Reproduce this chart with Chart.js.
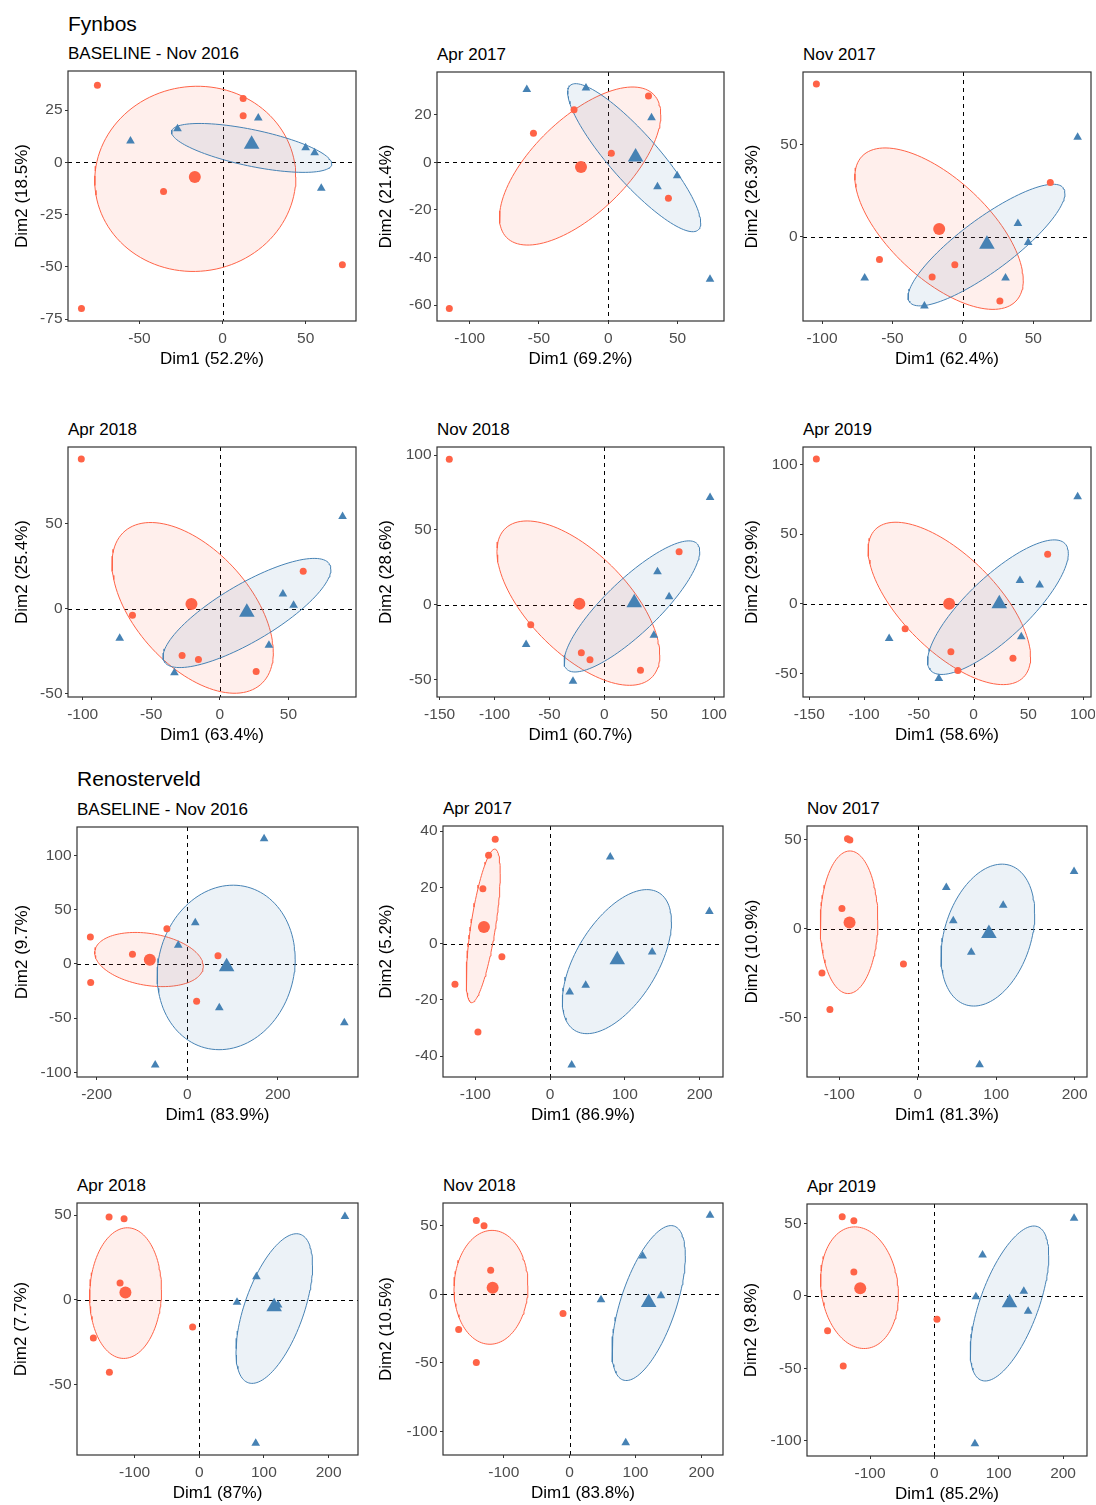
<!DOCTYPE html>
<html>
<head>
<meta charset="utf-8">
<script src="https://cdn.jsdelivr.net/npm/chart.js@4.4.1/dist/chart.umd.min.js"></script>
<style>
  body { margin: 0; background: #fff; width: 1096px; height: 1505px; position: relative; overflow: hidden;
         font-family: "Liberation Sans", Arial, sans-serif; }
  canvas { position: absolute; }
  .ttl { position: absolute; white-space: nowrap; color: #000; font-size: 17px; line-height: 17px; }
  .sec { position: absolute; white-space: nowrap; color: #000; font-size: 21px; line-height: 21px; }
</style>
</head>
<body>
<script>
// Panel text
const sectionTitles = ['Fynbos', 'Renosterveld'];
const panelTitles = ['BASELINE - Nov 2016', 'Apr 2017', 'Nov 2017', 'Apr 2018', 'Nov 2018', 'Apr 2019',
                     'BASELINE - Nov 2016', 'Apr 2017', 'Nov 2017', 'Apr 2018', 'Nov 2018', 'Apr 2019'];
const dim1Labels = ['Dim1 (52.2%)', 'Dim1 (69.2%)', 'Dim1 (62.4%)', 'Dim1 (63.4%)', 'Dim1 (60.7%)', 'Dim1 (58.6%)',
                    'Dim1 (83.9%)', 'Dim1 (86.9%)', 'Dim1 (81.3%)', 'Dim1 (87%)', 'Dim1 (83.8%)', 'Dim1 (85.2%)'];
const dim2Labels = ['Dim2 (18.5%)', 'Dim2 (21.4%)', 'Dim2 (26.3%)', 'Dim2 (25.4%)', 'Dim2 (28.6%)', 'Dim2 (29.9%)',
                    'Dim2 (9.7%)', 'Dim2 (5.2%)', 'Dim2 (10.9%)', 'Dim2 (7.7%)', 'Dim2 (10.5%)', 'Dim2 (9.8%)'];

// Axis ranges and ticks
const xRange = [[-93, 80.3], [-123.6, 83.5], [-113.5, 91], [-110.7, 99.3], [-152.4, 109.1], [-155.8, 107.3],
                [-243.5, 377.1], [-143.1, 231.1], [-141.1, 215.7], [-189.1, 245.5], [-192.4, 232.9], [-197.9, 237.2]];
const yRange = [[-75.9, 43.7], [-66.7, 37.9], [-45.7, 89.4], [-51.9, 95.1], [-61.6, 105.4], [-67.1, 112.7],
                [-104.3, 126.4], [-47.4, 41.8], [-83.3, 57.5], [-91.4, 57.1], [-117.3, 66.8], [-110.6, 63.4]];
const xTicks = [[-50, 0, 50], [-100, -50, 0, 50], [-100, -50, 0, 50], [-100, -50, 0, 50],
                [-150, -100, -50, 0, 50, 100], [-150, -100, -50, 0, 50, 100],
                [-200, 0, 200], [-100, 0, 100, 200], [-100, 0, 100, 200],
                [-100, 0, 100, 200], [-100, 0, 100, 200], [-100, 0, 100, 200]];
const yTicks = [[-75, -50, -25, 0, 25], [-60, -40, -20, 0, 20], [0, 50], [-50, 0, 50],
                [-50, 0, 50, 100], [-50, 0, 50, 100], [-100, -50, 0, 50, 100], [-40, -20, 0, 20, 40],
                [-50, 0, 50], [-50, 0, 50], [-100, -50, 0, 50], [-100, -50, 0, 50]];

// Individuals (red circles / blue triangles)
const redPoints = [
  [[-75.3, 36.9], [12.4, 30.6], [12.4, 22.3], [-35.5, -14.0], [72.1, -49.0], [-84.9, -69.9]],
  [[-54, 12.2], [-24.7, 22.0], [29.0, 27.8], [2.2, 3.8], [43.4, -15.1], [-114.7, -61.5]],
  [[-104, 82.9], [62.1, 29.4], [-59.2, -12.3], [-5.7, -15.2], [-21.8, -21.8], [26.3, -34.8]],
  [[-101, 88], [-63.7, -3.9], [-27.5, -27.5], [-15.6, -29.9], [26.5, -36.9], [60.8, 22]],
  [[-141.2, 97.3], [68.2, 35.5], [-67, -13.4], [-20.9, -32.1], [-13, -36.8], [33, -43.8]],
  [[-143.6, 104.1], [67.7, 35.6], [-62.5, -18], [-20.7, -34.6], [-14.3, -48.1], [36, -39.2]],
  [[-214, 24.8], [-121, 8.9], [-45, 32.5], [67.9, 7.7], [-213.3, -17.2], [20.7, -34.4]],
  [[-73.3, 37.1], [-82.2, 31.4], [-89.8, 19.5], [-64.4, -4.7], [-127.1, -14.4], [-96.4, -31.4]],
  [[-89.5, 50.4], [-86.5, 49.6], [-96.6, 11.2], [-18.2, -19.9], [-122, -24.9], [-111.9, -45.5]],
  [[-139.5, 48.8], [-116.3, 47.8], [-122.5, 10], [-10.3, -15.9], [-163.8, -22.4], [-139, -42.7]],
  [[-141.8, 54.1], [-130.1, 50.2], [-120, 17.6], [-10.1, -13.9], [-168.6, -25.6], [-141.8, -49.8]],
  [[-143.2, 54.6], [-125.1, 51.8], [-125.1, 16.4], [4.1, -16.1], [-165.9, -24.2], [-141.6, -48.4]]
];
const bluePoints = [
  [[-55.4, 10.2], [-27.1, 16.1], [21.5, 21.2], [50, 7.0], [55.4, 4.6], [59.4, -12.4]],
  [[-58.8, 30.5], [-16.1, 31.2], [31.2, 18.7], [35.5, -10.3], [49.7, -5.7], [73.4, -49.2]],
  [[81.5, 54], [39.1, 7.2], [46.4, -3.1], [-69.7, -22.4], [30.3, -22.4], [-27.3, -37.5]],
  [[89.5, 54.2], [46, 8.6], [53.8, 2.0], [-73, -17.3], [35.8, -21.4], [-33.1, -37.7]],
  [[96.4, 71.7], [48.5, 22.1], [59.1, 5.4], [45.2, -20.3], [-71.2, -26.6], [-28.5, -51.1]],
  [[95.1, 76.9], [42.4, 16.6], [60.4, 13.5], [43.6, -23.8], [-77.1, -25], [-31.7, -53.8]],
  [[169.7, 115.6], [17.7, 38], [-19.9, 17.2], [70.8, -40.5], [346.9, -54.3], [-70.8, -93.3]],
  [[80.4, 30.8], [212.9, 11.4], [136.4, -3], [47.6, -14.8], [26.2, -17.2], [28.9, -43.1]],
  [[199.2, 32], [36.4, 23], [108.9, 13.1], [45.3, 4.3], [68.2, -13.3], [78.8, -76.4]],
  [[225.3, 49.2], [88.4, 13.7], [58.4, -1.4], [122, -3], [87.3, -84.5]],
  [[213.2, 57.8], [110.9, 28], [47.6, -3.9], [138.7, -1], [85.1, -108.3]],
  [[217.1, 53.5], [74.9, 28.1], [139, 3.2], [64.6, -0.7], [145.7, -10.6], [63, -102.1]]
];

// Group means
const redCentroid = [[-16.7, -7.0], [-19.7, -2.0], [-16.8, 4.2], [-20.7, 2.8], [-22.7, 0.7], [-22.3, 0],
                     [-82.7, 4], [-88.4, 5.9], [-86.9, 3.4], [-114.2, 4.3], [-117, 4.9], [-115.2, 5.3]];
const blueCentroid = [[17.5, 8.6], [19.7, 2.2], [17.1, -4.0], [19.7, -2.0], [27.3, 1.3], [23.5, 0],
                      [87, -2.5], [89.8, -5.7], [90.7, -2.8], [115.8, -4.1], [120, -5.9], [116.8, -4.8]];

// Concentration ellipses: centre x, centre y, half-width, half-height, correlation
const redEllipse = [[-16.4, -7.9, 60.5, 44.3, 0.02], [-20.3, -1.6, 58.2, 33.2, 0.65], [-16.9, 4.4, 59.8, 43.8, -0.64],
                    [-19.8, 0.5, 58.8, 50.2, -0.52], [-23.6, 1.1, 74.2, 54.9, -0.63], [-22.1, 0.2, 74.2, 58.4, -0.66],
                    [-84.5, 4.1, 119.9, 25, -0.25], [-89.3, 6.3, 22.7, 27.3, 0.68], [-87.5, 3.5, 36.7, 40, 0.03],
                    [-114, 4, 55.6, 38.5, 0.05], [-119.5, 5.2, 56.2, 41.6, 0.03], [-116.3, 5.6, 60.5, 42, -0.12]];
const blueEllipse = [[17.5, 6.9, 48.2, 11.7, -0.65], [18.7, 1.9, 48, 31.1, -0.88], [16.8, -4.5, 55.7, 33, 0.85],
                     [19.8, -2.5, 61.2, 32.1, 0.8], [25.2, -1.1, 61.8, 43.8, 0.84], [22.3, -2.5, 64.3, 48.4, 0.8],
                     [86, -3.2, 152.4, 75.9, 0.1], [89.3, -6.4, 72.9, 25.6, 0.55], [89.4, -3.7, 59.7, 39.8, 0.3],
                     [116, -5.1, 59.2, 44.1, 0.58], [120, -6.3, 55.7, 56.6, 0.61], [116.8, -5.3, 61, 53.5, 0.62]];

// Layout: panel boxes [left, top, right, bottom] in page pixels
const boxes = [[68, 71, 356, 321], [437, 72, 724, 321], [803, 72, 1091, 321],
               [68, 447, 356, 697], [437, 447, 724, 697], [803, 447, 1091, 697],
               [77, 827, 358, 1077], [443, 826, 723, 1077], [807, 826, 1087, 1077],
               [77, 1203, 358, 1455], [443, 1203, 723, 1455], [807, 1204, 1087, 1456]];
const yTitleGap = [46, 51, 51, 45.5, 51, 51, 55, 57, 55, 56, 57, 56];
const sectionPos = [[68, 31], [77, 786]];

const RED = '#FF6347', BLUE = '#4682B4';
const RED_FILL = 'rgba(255, 99, 71, 0.1)', BLUE_FILL = 'rgba(70, 130, 180, 0.1)';
const FONT = '"Liberation Sans", Arial, sans-serif';
const AXIS_W = 68, AXIS_H = 50, PAD_T = 4, PAD_R = 4;

function toXY(list) {
    return list.map(p => ({x: p[0], y: p[1]}));
}

// Trace the ellipse outline in data units
function ellipsePath(e) {
    const [cx, cy, rx, ry, rho] = e;
    const phi = Math.acos(rho);
    const pts = [];
    for (let i = 0; i <= 120; i++) {
        const t = i / 120 * 2 * Math.PI;
        pts.push({x: cx + rx * Math.cos(t), y: cy + ry * Math.cos(t - phi)});
    }
    return pts;
}

// Keep the plot box where it is: fixed axis size, no label overflow padding
function fixAxis(s, size) {
    if (s.isHorizontal()) s.height = size; else s.width = size;
    s.paddingTop = 0;
    s.paddingBottom = 0;
    s.paddingLeft = 0;
    s.paddingRight = 0;
}

// Dashed zero lines and panel border
const framePlugin = {
    id: 'frame',
    beforeDatasetsDraw(chart) {
        const {ctx, chartArea: a, scales} = chart;
        const px = Math.round(scales.x.getPixelForValue(0)) + 0.5;
        const py = Math.round(scales.y.getPixelForValue(0)) + 0.5;
        ctx.save();
        ctx.strokeStyle = '#000';
        ctx.lineWidth = 1;
        ctx.setLineDash([4, 4]);
        ctx.beginPath();
        ctx.moveTo(px, a.top);
        ctx.lineTo(px, a.bottom);
        ctx.moveTo(a.left, py);
        ctx.lineTo(a.right, py);
        ctx.stroke();
        ctx.restore();
    },
    afterDraw(chart) {
        const {ctx, chartArea: a} = chart;
        ctx.save();
        ctx.strokeStyle = '#333';
        ctx.lineWidth = 1.2;
        ctx.strokeRect(a.left, a.top, a.right - a.left, a.bottom - a.top);
        ctx.restore();
    }
};

function addText(cls, text, left, top) {
    const d = document.createElement('div');
    d.className = cls;
    d.textContent = text;
    d.style.left = left + 'px';
    d.style.top = top + 'px';
    document.body.appendChild(d);
}

sectionTitles.forEach((t, k) => addText('sec', t, sectionPos[k][0], sectionPos[k][1] - 17.8));

boxes.forEach((b, i) => {
    const [L, T, R, B] = b;
    addText('ttl', panelTitles[i], L, T - 12 - 14.4);

    const canvas = document.createElement('canvas');
    canvas.width = AXIS_W + (R - L) + PAD_R;
    canvas.height = PAD_T + (B - T) + AXIS_H;
    canvas.style.left = (L - AXIS_W) + 'px';
    canvas.style.top = (T - PAD_T) + 'px';
    document.body.appendChild(canvas);

    const tickFont = {family: FONT, size: 15.5};
    const titleFont = {family: FONT, size: 17, lineHeight: 1};

    new Chart(canvas, {
        type: 'scatter',
        data: {
            datasets: [
                {
                    data: toXY(redPoints[i]),
                    pointStyle: 'circle',
                    pointRadius: 3.5,
                    backgroundColor: RED,
                    borderWidth: 0,
                    order: 1
                },
                {
                    data: toXY(bluePoints[i]),
                    pointStyle: 'triangle',
                    pointRadius: 5,
                    backgroundColor: BLUE,
                    borderWidth: 0,
                    order: 1
                },
                {
                    data: toXY([redCentroid[i]]),
                    pointStyle: 'circle',
                    pointRadius: 6,
                    backgroundColor: RED,
                    borderWidth: 0,
                    order: 0
                },
                {
                    data: toXY([blueCentroid[i]]),
                    pointStyle: 'triangle',
                    pointRadius: 9,
                    backgroundColor: BLUE,
                    borderWidth: 0,
                    order: 0
                },
                {
                    type: 'line',
                    data: ellipsePath(redEllipse[i]),
                    borderColor: RED,
                    backgroundColor: RED_FILL,
                    borderWidth: 1,
                    fill: 'shape',
                    pointRadius: 0,
                    tension: 0,
                    order: 5
                },
                {
                    type: 'line',
                    data: ellipsePath(blueEllipse[i]),
                    borderColor: BLUE,
                    backgroundColor: BLUE_FILL,
                    borderWidth: 1,
                    fill: 'shape',
                    pointRadius: 0,
                    tension: 0,
                    order: 4
                }
            ]
        },
        options: {
            responsive: false,
            animation: false,
            devicePixelRatio: 1,
            layout: {autoPadding: false, padding: {top: PAD_T, right: PAD_R, left: 0, bottom: 0}},
            plugins: {
                legend: {display: false},
                tooltip: {enabled: false}
            },
            scales: {
                x: {
                    type: 'linear',
                    min: xRange[i][0],
                    max: xRange[i][1],
                    afterBuildTicks: s => { s.ticks = xTicks[i].map(v => ({value: v})); },
                    afterFit: s => fixAxis(s, AXIS_H),
                    grid: {drawOnChartArea: false, tickLength: 3, color: '#333'},
                    border: {display: false},
                    ticks: {color: '#4d4d4d', font: tickFont, padding: 5, maxRotation: 0, autoSkip: false},
                    title: {display: true, text: dim1Labels[i], color: '#000', font: titleFont,
                            padding: {top: 0, bottom: 3}}
                },
                y: {
                    type: 'linear',
                    min: yRange[i][0],
                    max: yRange[i][1],
                    afterBuildTicks: s => { s.ticks = yTicks[i].map(v => ({value: v})); },
                    afterFit: s => fixAxis(s, AXIS_W),
                    grid: {drawOnChartArea: false, tickLength: 3, color: '#333'},
                    border: {display: false},
                    ticks: {color: '#4d4d4d', font: tickFont, padding: 2.5, autoSkip: false},
                    title: {display: true, text: dim2Labels[i], color: '#000', font: titleFont,
                            padding: {top: AXIS_W - yTitleGap[i] - 8.5, bottom: 0}}
                }
            }
        },
        plugins: [framePlugin]
    });
});
</script>
</body>
</html>
